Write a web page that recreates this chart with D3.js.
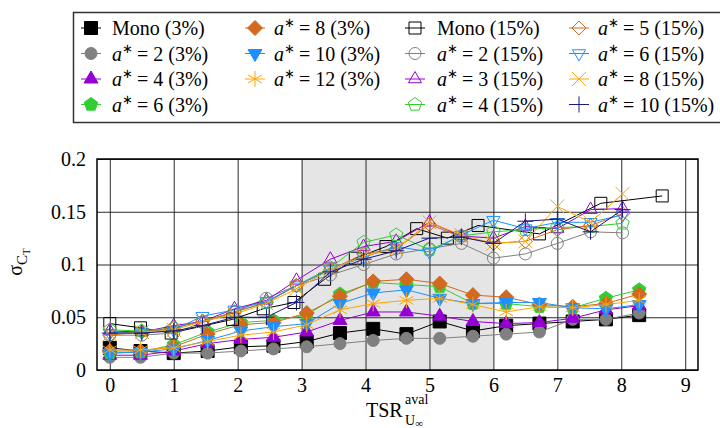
<!DOCTYPE html>
<html><head><meta charset="utf-8">
<script src="https://cdn.jsdelivr.net/npm/d3@7"></script>
<style>
body{margin:0;background:#fff}
svg{display:block}
</style>
</head><body>
<svg id="c" width="720" height="428"></svg>
<script>
// ---------- data ----------
const xTicks = [0,1,2,3,4,5,6,7,8,9];
const yTicks = [0,0.05,0.1,0.15,0.2];
const yTickLabels = ["0","0.05","0.1","0.15","0.2"];
const shadedRange = [3,6];

// x positions (TSR) of the measurement points
const x3   = [0,0.48,1,1.53,2.05,2.56,3.08,3.6,4.12,4.64,5.16,5.68,6.2,6.72,7.24,7.76,8.28];
const x15  = [0,0.5,1,1.45,1.95,2.45,2.92,3.45,3.97,4.48,5.0,5.5,6.0,6.5,7.0,7.52,8.02];
const xM15 = [0,0.48,0.96,1.92,2.4,2.88,3.36,3.84,4.32,4.8,5.28,5.76,6.72,7.68,8.64];

// 3% series
const mono3 = [0.021,0.018,0.016,0.018,0.022,0.023,0.027,0.035,0.039,0.034,0.046,0.037,0.042,0.044,0.046,0.048,0.052];
const a2_3  = [0.012,0.012,0.016,0.016,0.018,0.020,0.022,0.025,0.028,0.030,0.030,0.032,0.034,0.036,0.048,0.048,0.054];
const a4_3  = [0.014,0.014,0.018,0.025,0.029,0.031,0.036,0.047,0.055,0.055,0.051,0.046,0.044,0.045,0.049,0.057,0.061];
const a6_3  = [0.016,0.017,0.024,0.036,0.045,0.047,0.052,0.072,0.083,0.081,0.079,0.063,0.063,0.060,0.059,0.068,0.076];
const a8_3  = [0.018,0.018,0.022,0.034,0.043,0.045,0.054,0.070,0.084,0.086,0.082,0.071,0.069,0.062,0.060,0.063,0.072];
const a10_3 = [0.016,0.017,0.020,0.028,0.037,0.041,0.044,0.063,0.073,0.076,0.068,0.063,0.064,0.064,0.059,0.058,0.062];
const a12_3 = [0.019,0.019,0.021,0.027,0.033,0.036,0.043,0.057,0.063,0.066,0.068,0.062,0.055,0.060,0.059,0.062,0.066];

// 15% series
const mono15 = [0.044,0.040,0.035,0.048,0.058,0.064,0.086,0.106,0.117,0.134,0.125,0.137,0.129,0.158,0.165];
const a2_15  = [0.033,0.033,0.035,0.045,0.055,0.068,0.080,0.090,0.100,0.110,0.115,0.120,0.106,0.110,0.120,0.131,0.130];
const a3_15  = [0.037,0.036,0.042,0.046,0.058,0.066,0.085,0.105,0.117,0.122,0.140,0.127,0.125,0.136,0.134,0.152,0.153];
const a4_15  = [0.038,0.037,0.040,0.046,0.055,0.064,0.080,0.097,0.121,0.128,0.114,0.127,0.131,0.133,0.135,0.136,0.139];
const a5_15  = [0.033,0.036,0.040,0.046,0.055,0.064,0.080,0.095,0.110,0.115,0.138,0.126,0.120,0.122,0.133,0.137,0.148];
const a6_15  = [0.035,0.036,0.038,0.051,0.057,0.065,0.080,0.095,0.107,0.117,0.112,0.128,0.142,0.134,0.140,0.140,0.147];
const a8_15  = [0.034,0.036,0.038,0.046,0.053,0.063,0.077,0.095,0.108,0.115,0.140,0.128,0.120,0.122,0.155,0.140,0.167];
const a10_15 = [0.035,0.035,0.037,0.042,0.050,0.050,0.064,0.093,0.105,0.113,0.125,0.126,0.120,0.141,0.143,0.131,0.152];

const seriesNames = ["Mono","2","4","6","8","10","12","Mono","2","3","4","5","6","8","10"];
const seriesPct   = ["3%","3%","3%","3%","3%","3%","3%","15%","15%","15%","15%","15%","15%","15%","15%"];

// ---------- styles ----------
const FONT = '"Liberation Serif", "Times New Roman", serif';
const C = {black:"#000000", gray:"#808080", purple:"#9400d3", green:"#32cd32",
           brown:"#d2691e", blue:"#1e90ff", orange:"#ffa500", navy:"#1a1a80"};
const series = [
  {xs:x3, ys:mono3, color:C.black,  sym:"square",  fill:true,  r:6.5},
  {xs:x3, ys:a2_3,  color:C.gray,   sym:"circle",  fill:true,  r:6},
  {xs:x3, ys:a4_3,  color:C.purple, sym:"triUp",   fill:true,  r:8},
  {xs:x3, ys:a6_3,  color:C.green,  sym:"pent",    fill:true,  r:7},
  {xs:x3, ys:a8_3,  color:C.brown,  sym:"diamond", fill:true,  r:7.5},
  {xs:x3, ys:a10_3, color:C.blue,   sym:"triDown", fill:true,  r:8},
  {xs:x3, ys:a12_3, color:C.orange, sym:"aster",   fill:false, r:8},
  {xs:xM15, ys:mono15, color:C.black,  sym:"square",  fill:false, r:6},
  {xs:x15, ys:a2_15,  color:C.gray,   sym:"circle",  fill:false, r:6},
  {xs:x15, ys:a3_15,  color:C.purple, sym:"triUp",   fill:false, r:7.5},
  {xs:x15, ys:a4_15,  color:C.green,  sym:"pent",    fill:false, r:7},
  {xs:x15, ys:a5_15,  color:C.brown,  sym:"diamond", fill:false, r:7},
  {xs:x15, ys:a6_15,  color:C.blue,   sym:"triDown", fill:false, r:7.5},
  {xs:x15, ys:a8_15,  color:C.orange, sym:"cross",   fill:false, r:7},
  {xs:x15, ys:a10_15, color:C.navy,   sym:"plus",    fill:false, r:8}
];
series.forEach((s,i)=>{ s.name = seriesNames[i]; s.pct = seriesPct[i]; });

function symPath(t, r){
  switch(t){
    case "square": return `M${-r},${-r}H${r}V${r}H${-r}Z`;
    case "circle": return `M${r},0A${r},${r} 0 1,1 ${-r},0A${r},${r} 0 1,1 ${r},0Z`;
    case "triUp": return `M0,${-r}L${r*0.87},${r*0.5}L${-r*0.87},${r*0.5}Z`;
    case "triDown": return `M0,${r}L${r*0.87},${-r*0.5}L${-r*0.87},${-r*0.5}Z`;
    case "diamond": return `M0,${-r}L${r},0L0,${r}L${-r},0Z`;
    case "pent": {
      let p = [];
      for(let k=0;k<5;k++){ const a = -Math.PI/2 + k*2*Math.PI/5; p.push([r*Math.cos(a), r*Math.sin(a)]); }
      return "M" + p.map(d=>d.join(",")).join("L") + "Z";
    }
    case "aster": {
      let s = "";
      for(let k=0;k<3;k++){ const a = Math.PI/2 + k*Math.PI/3; const dx=r*Math.cos(a), dy=r*Math.sin(a); s += `M${-dx},${-dy}L${dx},${dy}`; }
      return s;
    }
    case "cross": return `M${-r},${-r}L${r},${r}M${-r},${r}L${r},${-r}`;
    case "plus": return `M${-r},0H${r}M0,${-r}V${r}`;
  }
}

// ---------- layout ----------
const svg = d3.select("#c");
const L = 97, R = 698, T = 159, B = 370;
const x = d3.scaleLinear().domain([-0.2, 9.2]).range([L, R]);
const y = d3.scaleLinear().domain([0, 0.2]).range([B, T]);

// shaded band
svg.append("rect").attr("x", x(shadedRange[0])).attr("y", T)
  .attr("width", x(shadedRange[1]) - x(shadedRange[0])).attr("height", B - T)
  .attr("fill", "#e5e5e5");

// grid + tick labels via axes
const gx = svg.append("g").attr("transform", `translate(0,${B})`)
  .call(d3.axisBottom(x).tickValues(xTicks).tickFormat(d3.format("d"))
        .tickSize(-(B - T)).tickSizeOuter(0).tickPadding(8));
const gy = svg.append("g").attr("transform", `translate(${L},0)`)
  .call(d3.axisLeft(y).tickValues(yTicks).tickFormat((d,i)=>yTickLabels[i])
        .tickSize(-(R - L)).tickSizeOuter(0).tickPadding(11));
[gx, gy].forEach(g=>{
  g.attr("font-family", FONT).attr("font-size", 20);
  g.select(".domain").remove();
  g.selectAll(".tick line").attr("stroke", "#2a2a2a").attr("stroke-width", 1);
  g.selectAll(".tick text").attr("fill", "#000");
});

// frame
svg.append("rect").attr("x", L).attr("y", T).attr("width", R - L).attr("height", B - T)
  .attr("fill", "none").attr("stroke", "#000").attr("stroke-width", 1.5);

// series
const line = d3.line().x(d=>x(d[0])).y(d=>y(d[1]));
series.forEach(s=>{
  const pts = s.xs.map((v,i)=>[v, s.ys[i]]);
  const g = svg.append("g");
  g.append("path").attr("d", line(pts)).attr("fill", "none")
    .attr("stroke", s.color).attr("stroke-width", 1);
  g.selectAll("path.m").data(pts).join("path").attr("class","m")
    .attr("transform", d=>`translate(${x(d[0])},${y(d[1])})`)
    .attr("d", symPath(s.sym, s.r))
    .attr("fill", s.fill ? s.color : "none")
    .attr("stroke", s.color).attr("stroke-width", 1);
});

// axis labels
const yl = svg.append("text").attr("transform", "translate(22,262) rotate(-90)")
  .attr("text-anchor", "middle").attr("font-size", 20);
yl.append("tspan").text("σ");
yl.append("tspan").attr("dy", 5).attr("font-size", 15).text("C");
yl.append("tspan").attr("dy", 3).attr("font-size", 11).text("T");

const xl = svg.append("text").attr("x", 366).attr("y", 417).attr("font-size", 20);
xl.append("tspan").text("TSR");
svg.append("text").attr("x", 405).attr("y", 404).attr("font-size", 14).text("aval");
const xs = svg.append("text").attr("x", 405).attr("y", 425).attr("font-size", 14);
xs.append("tspan").text("U");
xs.append("tspan").attr("dy", 2).attr("font-size", 11).text("∞");

// legend
svg.append("rect").attr("x", 73.5).attr("y", 12.5).attr("width", 680).attr("height", 110)
  .attr("fill", "#fff").attr("stroke", "#333").attr("stroke-width", 1.5);
const colMx = [91, 255, 415, 579], colTx = [112, 274, 437, 598];
const rowY = [28, 53.5, 79, 104.5];
const layout = [[0,0],[0,1],[0,2],[0,3],[1,0],[1,1],[1,2],[2,0],[2,1],[2,2],[2,3],[3,0],[3,1],[3,2],[3,3]];
series.forEach((s,i)=>{
  const [c, r] = layout[i];
  const g = svg.append("g").attr("transform", `translate(${colMx[c]},${rowY[r]})`);
  g.append("line").attr("x1", -10).attr("x2", 10).attr("stroke", s.color).attr("stroke-width", 1);
  g.append("path").attr("d", symPath(s.sym, s.r)).attr("fill", s.fill ? s.color : "none")
    .attr("stroke", s.color).attr("stroke-width", 1);
  const t = svg.append("text").attr("x", colTx[c]).attr("y", rowY[r] + 7).attr("font-size", 20);
  if (s.name === "Mono") {
    t.text(`Mono (${s.pct})`);
  } else {
    t.append("tspan").attr("font-style", "italic").text("a");
    t.append("tspan").attr("dy", -8).attr("font-size", 13).text("∗");
    t.append("tspan").attr("dy", 8).attr("dx", 4).text("=");
    t.append("tspan").attr("dx", 5).text(`${s.name} (${s.pct})`);
  }
});

// one font for every text of the chart
svg.selectAll("text").attr("font-family", FONT);
</script>
</body></html>
